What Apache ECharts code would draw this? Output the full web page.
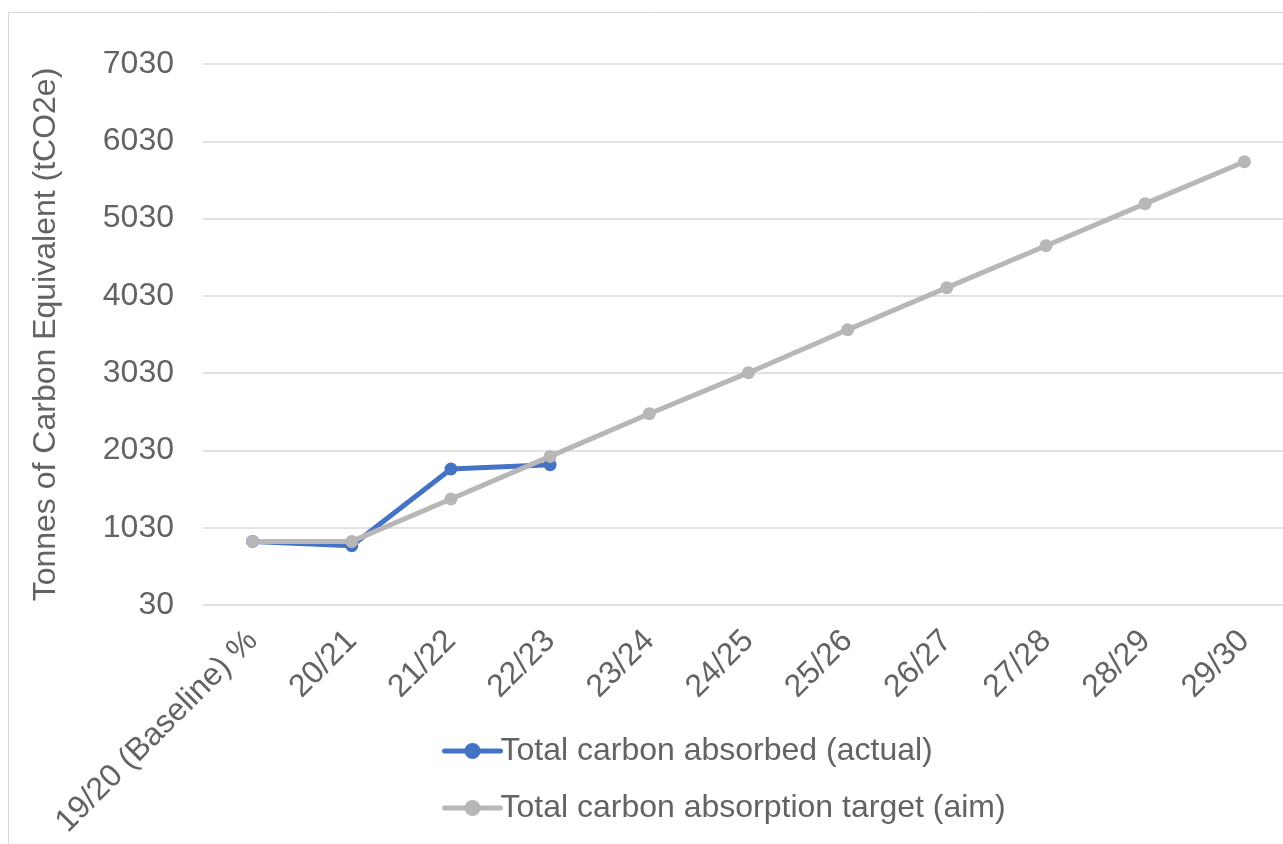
<!DOCTYPE html>
<html>
<head>
<meta charset="utf-8">
<script src="https://cdn.jsdelivr.net/npm/echarts@6/dist/echarts.min.js"></script>
<style>
html,body{margin:0;padding:0;background:#fff;overflow:hidden;}
#chart{width:1300px;height:844px;}
</style>
</head>
<body>
<div id="chart"></div>
<script>
const categories = ['19/20 (Baseline) %','20/21','21/22','22/23','23/24','24/25','25/26','26/27','27/28','28/29','29/30'];
const actualName = 'Total carbon absorbed (actual)';
const targetName = 'Total carbon absorption target (aim)';
const actualValues = [853, 797, 1790, 1845, null, null, null, null, null, null, null];
const targetValues = [853, 853, 1402, 1953, 2505, 3036, 3592, 4136, 4679, 5223, 5766];
const yMin = 30, yMax = 7030, yStep = 1000;
const yTitle = 'Tonnes of Carbon Equivalent (tCO2e)';

const chart = echarts.init(document.getElementById('chart'), null, {renderer:'canvas'});
const font = 'Liberation Sans, Arial, sans-serif';
const txt = '#636363';
chart.setOption({
  animation:false,
  backgroundColor:'#fff',
  graphic:[{type:'rect', shape:{x:8.5,y:12.5,width:1400,height:1000}, style:{fill:'none', stroke:'#d9d9d9', lineWidth:1}, silent:true}],
  grid:{left:203, width:1091, top:64, height:541},
  legend:{
    orient:'vertical', left:437, top:730, itemWidth:56, itemHeight:20, itemGap:25,
    lineStyle:{width:5, cap:'round'},
    textStyle:{fontFamily:font, fontSize:32, color:txt, padding:[0,0,0,-5]},
    data:[actualName, targetName]
  },
  xAxis:{
    type:'category', data:categories, boundaryGap:true,
    axisLine:{show:false}, axisTick:{show:false},
    axisLabel:{interval:0, rotate:45, margin:31, fontFamily:font, fontSize:32, color:txt}
  },
  yAxis:{
    type:'value', min:yMin, max:yMax, interval:yStep,
    name:yTitle, nameLocation:'middle', nameGap:141, nameRotate:90,
    nameTextStyle:{fontFamily:font, fontSize:32, color:txt},
    axisLine:{show:false}, axisTick:{show:false},
    axisLabel:{margin:29, fontFamily:font, fontSize:32, color:txt, formatter:function(v){return String(v);}},
    splitLine:{lineStyle:{color:'#d9d9d9', width:1.5}}
  },
  series:[
    {name:actualName, type:'line', data:actualValues, symbol:'circle', symbolSize:13,
     itemStyle:{color:'#4472C4'}, lineStyle:{color:'#4472C4', width:5}, connectNulls:false},
    {name:targetName, type:'line', data:targetValues, symbol:'circle', symbolSize:13,
     itemStyle:{color:'#b7b7b7'}, lineStyle:{color:'#b7b7b7', width:5}}
  ]
});
</script>
</body>
</html>
